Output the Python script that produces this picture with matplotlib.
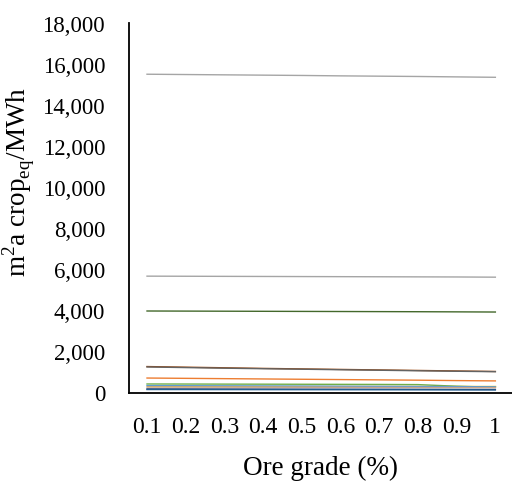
import matplotlib
matplotlib.use("Agg")
import matplotlib.pyplot as plt
from matplotlib.ticker import FuncFormatter

plt.rcParams['font.family'] = ['Liberation Serif', 'DejaVu Serif']
plt.rcParams['mathtext.fontset'] = 'custom'
plt.rcParams['mathtext.rm'] = 'Liberation Serif'

grades = ["0.1", "0.2", "0.3", "0.4", "0.5", "0.6", "0.7", "0.8", "0.9", "1"]

# series (m2a crop_eq / MWh)
s_gray_top = [15550, 15535, 15520, 15505, 15490, 15470, 15455, 15440, 15420, 15400]
s_gray_mid = [5700, 5695, 5690, 5685, 5680, 5675, 5670, 5665, 5660, 5650]
s_darkgreen = [4000, 3995, 3990, 3985, 3980, 3975, 3970, 3965, 3958, 3950]
s_brown = [1290, 1260, 1230, 1200, 1175, 1150, 1125, 1100, 1075, 1050]
s_darkgray = [1270, 1240, 1210, 1185, 1160, 1135, 1110, 1085, 1060, 1040]
s_orange = [730, 715, 700, 685, 670, 655, 640, 625, 605, 590]
s_yellow = [330, 330, 330, 330, 330, 330, 330, 330, 330, 330]
s_green = [440, 437, 433, 430, 426, 422, 418, 410, 330, 280]
s_lightblue = [360, 355, 350, 345, 340, 332, 325, 318, 310, 300]
s_tan = [290, 287, 284, 281, 278, 275, 272, 268, 264, 260]
s_navy = [200, 197, 194, 191, 188, 185, 182, 178, 174, 170]
s_blue = [170, 168, 166, 164, 162, 160, 158, 156, 153, 150]

series = [
    (s_gray_top, "#A5A5A5"),
    (s_gray_mid, "#A5A5A5"),
    (s_darkgreen, "#43682B"),
    (s_brown, "#9E480E"),
    (s_darkgray, "#636363"),
    (s_orange, "#ED7D31"),
    (s_yellow, "#FFC000"),
    (s_green, "#70AD47"),
    (s_lightblue, "#5B9BD5"),
    (s_tan, "#C9A48A"),
    (s_navy, "#264478"),
    (s_blue, "#255E91"),
]

fig = plt.figure(figsize=(5.12, 4.84), dpi=100)
ax = fig.add_axes([128.7 / 512, 91 / 484, 1 - 128.7 / 512, (393 - 23) / 484])

x = list(range(len(grades)))
for vals, col in series:
    ax.plot(x, vals, color=col, lw=1.0)

ax.set_xlim(-0.473, 9.43)
ax.set_ylim(0, 18000 * 370 / 369)
ax.set_yticks(range(0, 18001, 2000))
ax.yaxis.set_major_formatter(FuncFormatter(lambda v, p: f"{int(v):,}"))
ax.set_xticks(x)
ax.set_xticklabels(grades)

ax.spines['top'].set_visible(False)
ax.spines['right'].set_visible(False)
ax.spines['left'].set_linewidth(1.3)
ax.spines['bottom'].set_linewidth(1.3)
ax.tick_params(axis='y', length=0, pad=17, labelsize=16.5)
ax.tick_params(axis='x', length=0, pad=17, labelsize=17)

ax.set_ylabel("m$^2$a crop$_{\\mathrm{eq}}$/MWh", fontsize=19.5)
ax.yaxis.set_label_coords(-0.24, 0.57)
ax.set_xlabel("Ore grade (%)", fontsize=19.5, labelpad=13)

fig.savefig("out.png", dpi=100)
